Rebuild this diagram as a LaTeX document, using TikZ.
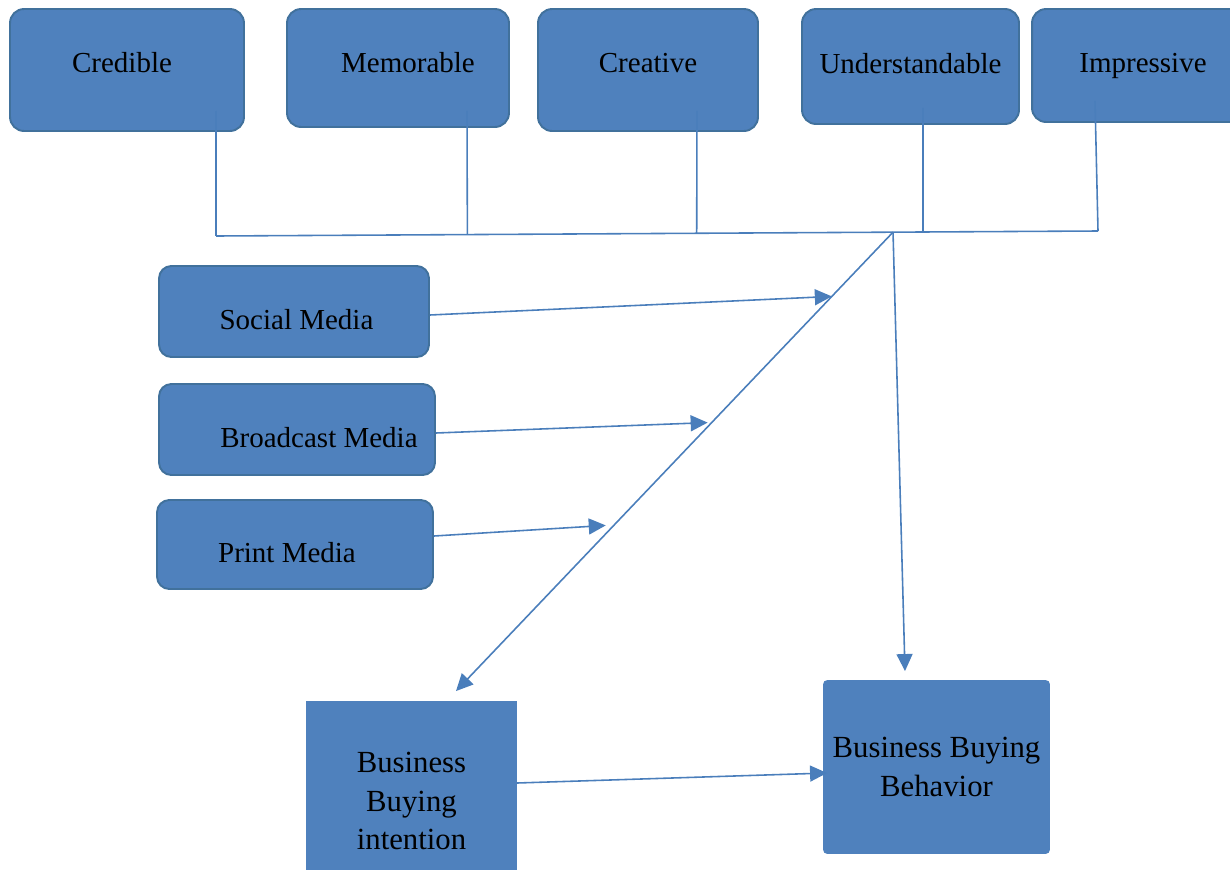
\documentclass[tikz,border=0pt]{standalone}
\usepackage{fontspec}
\setmainfont{Liberation Serif}
\usetikzlibrary{arrows.meta, calc}
\definecolor{cfill}{HTML}{4F81BD}
\definecolor{cedge}{HTML}{41719C}
\definecolor{cline}{HTML}{4A7EBB}
\tikzset{
  box/.style={draw=cedge, fill=cfill, line width=1.1pt, rounded corners=#1, align=center, inner sep=0pt},
  box/.default=8pt,
  attr/.style={box=8pt, font=\fontsize{16.5}{19.8}\selectfont, text height=12pt, text depth=#1},
  attr/.default=9pt,
  media/.style={box=7pt, font=\fontsize{16.5}{19.8}\selectfont, text height=20pt, text depth=0pt, minimum height=1.82cm},
  outcome/.style={box=#1, draw=cfill, font=\fontsize{17.5}{22}\selectfont},
  nudge/.style={execute at begin node=\hspace*{#1}},
  wire/.style={draw=cline, line width=0.9pt},
  arrow/.style={wire, -{Triangle[length=3.4mm, width=3.2mm]}},
}

\begin{document}
\begin{tikzpicture}[x=0.02cm, y=-0.02cm]
  \useasboundingbox (0,0) rectangle (1230,869);
  % message qualities
  \node[attr, nudge=-0.2cm, minimum width=4.68cm, minimum height=2.44cm] (cred) at (127,70) {Credible};
  \node[attr=6.4pt, nudge=0.4cm, minimum width=4.44cm, minimum height=2.36cm] (mem) at (398,68) {Memorable};
  \node[attr, minimum width=4.40cm, minimum height=2.44cm] (crea) at (648,70) {Creative};
  \node[attr=4.6pt, minimum width=4.34cm, minimum height=2.30cm] (und) at (910.5,66.5) {Understandable};
  \node[attr=3.5pt, minimum width=4.44cm, minimum height=2.26cm] (imp) at (1143,65.5) {Impressive};
  % media channels
  \node[media, nudge=0.1cm, minimum width=5.40cm] (soc) at (294,311.5) {Social Media};
  \node[media, nudge=0.88cm, minimum width=5.52cm] (brd) at (297,429.5) {Broadcast Media};
  \node[media, nudge=-0.32cm, minimum width=5.52cm, minimum height=1.78cm] (prt) at (295,544.5) {Print Media};
  % outcomes
  \node[outcome=0pt, minimum width=4.18cm, minimum height=3.96cm] (intent) at (411.5,801) {Business\\Buying\\intention};
  \node[outcome=2pt, minimum width=4.50cm, minimum height=3.44cm] (behav) at (936.5,767) {Business Buying\\Behavior};
  % collecting bus
  \coordinate (busL) at (216,236);
  \coordinate (busR) at (1098,231);
  \coordinate (hub) at ($(busL)!0.7676!(busR)$);
  \coordinate (itip) at ($(intent.north)+(44.5,-10)$);
  \draw[wire] (busL) -- (busR);
  \draw[wire] ($(cred.south)+(89,-21)$) -- (busL);
  \draw[wire] ($(mem.south)+(69,-17)$) -- ($(busL)!0.285!(busR)$);
  \draw[wire] ($(crea.south)+(49,-21)$) -- ($(busL)!0.545!(busR)$);
  \draw[wire] ($(und.south)+(12.5,-17)$) -- ($(busL)!0.8016!(busR)$);
  \draw[wire] ($(imp.south)+(-48,-22)$) -- (busR);
  % arrows
  \draw[arrow] (hub) -- (itip);
  \draw[arrow] (hub) -- ($(behav.north)+(-31.5,-9)$);
  \draw[arrow] ($(soc.east)+(0,3.5)$) -- ($(hub)!0.14!(itip)$);
  \draw[arrow] ($(brd.east)+(0,3.5)$) -- ($(hub)!0.415!(itip)+(-4,0)$);
  \draw[arrow] ($(prt.east)+(0,-8.5)$) -- ($(hub)!0.639!(itip)+(-8,0)$);
  \draw[arrow] ($(intent.east)+(0,-18)$) -- ($(behav.west)+(4,6)$);
\end{tikzpicture}
\end{document}
